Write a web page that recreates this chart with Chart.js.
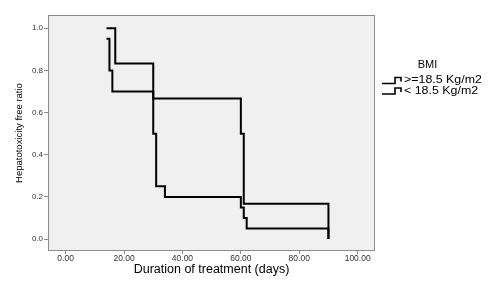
<!DOCTYPE html>
<html>
<head>
<meta charset="utf-8">
<script src="https://cdn.jsdelivr.net/npm/chart.js@4.4.1/dist/chart.umd.min.js"></script>
<style>
  html, body { margin: 0; padding: 0; background: #fff; }
  #chart { display: block; }
</style>
</head>
<body>
<canvas id="chart" width="500" height="281"></canvas>
<script>
// Kaplan-Meier data
const groupLabels = ['>=18.5 Kg/m2', '< 18.5 Kg/m2'];
const timesHigh = [14, 17, 30, 60, 61, 90];
const survHigh = [1.0, 0.833, 0.667, 0.5, 0.167, 0.0];
const timesLow = [14, 15, 16, 30, 31, 34, 60, 61, 62, 90];
const survLow = [0.95, 0.8, 0.7, 0.5, 0.25, 0.2, 0.15, 0.1, 0.05, 0.0];

// tick labels
const xTicks = [0, 20, 40, 60, 80, 100];
const yTicks = [0, 0.2, 0.4, 0.6, 0.8, 1.0];

const FONT = '"Liberation Sans", Arial, sans-serif';

function toPoints(times, values) {
  return times.map((t, i) => ({ x: t, y: values[i] }));
}

// grå bakgrund och ram runt ritytan
const plotBox = {
  id: 'plotBox',
  beforeDraw(chart) {
    const { ctx, chartArea: a } = chart;
    ctx.save();
    ctx.fillStyle = '#f0f0f0';
    ctx.fillRect(a.left, a.top, a.right - a.left, a.bottom - a.top);
    ctx.restore();
  },
  beforeDatasetsDraw(chart) {
    const { ctx, chartArea: a } = chart;
    ctx.save();
    ctx.strokeStyle = '#8c8c8c';
    ctx.lineWidth = 1;
    ctx.strokeRect(a.left - 0.5, a.top - 0.5, a.right - a.left + 1, a.bottom - a.top + 1);
    ctx.restore();
  }
};

// legend med trappsymbol (texten lite utdragen på bredden som i originalet)
const stepLegend = {
  id: 'stepLegend',
  afterDraw(chart) {
    const ctx = chart.ctx;
    ctx.save();
    ctx.fillStyle = '#000';
    ctx.textBaseline = 'middle';
    ctx.textAlign = 'center';
    ctx.font = '11px ' + FONT;
    ctx.fillText('BMI', 427.5, 65);
    groupLabels.forEach((label, i) => {
      const y = 80.5 + i * 10.5;
      ctx.strokeStyle = '#000';
      ctx.lineWidth = 1.6;
      ctx.beginPath();
      ctx.moveTo(382, y + 3);
      ctx.lineTo(395, y + 3);
      ctx.lineTo(395, y - 3);
      ctx.lineTo(401, y - 3);
      ctx.lineTo(401, y + 1);
      ctx.stroke();
      ctx.save();
      ctx.translate(404, y);
      ctx.scale(1.24, 1);
      ctx.textAlign = 'left';
      ctx.font = '10px ' + FONT;
      ctx.fillText(label, 0, 0);
      ctx.restore();
    });
    ctx.restore();
  }
};

new Chart(document.getElementById('chart'), {
  type: 'line',
  data: {
    datasets: [{
      label: groupLabels[0],
      data: toPoints(timesHigh, survHigh),
      borderColor: '#000',
      borderWidth: 2,
      stepped: 'before',
      pointRadius: 0,
      fill: false
    }, {
      label: groupLabels[1],
      data: toPoints(timesLow, survLow),
      borderColor: '#000',
      borderWidth: 2,
      stepped: 'before',
      pointRadius: 0,
      fill: false
    }]
  },
  options: {
    responsive: false,
    animation: false,
    layout: { padding: { left: 0, top: 16, right: 126, bottom: 0 } },
    plugins: {
      legend: { display: false },
      tooltip: { enabled: false }
    },
    scales: {
      x: {
        type: 'linear',
        min: -5.7,
        max: 105.6,
        afterBuildTicks: s => { s.ticks = xTicks.map(v => ({ value: v })); },
        afterFit: s => { s.height = 31; },
        border: { display: false },
        grid: { drawOnChartArea: false, drawTicks: true, tickLength: 4, color: '#8c8c8c' },
        ticks: {
          font: { family: FONT, size: 8.5 },
          color: '#333',
          padding: 0,
          maxRotation: 0,
          callback: v => v.toFixed(2)
        },
        title: {
          display: true,
          text: 'Duration of treatment (days)',
          font: { family: FONT, size: 12.5 },
          color: '#000',
          padding: { top: 0, bottom: 4 }
        }
      },
      y: {
        min: -0.052,
        max: 1.058,
        afterBuildTicks: s => { s.ticks = yTicks.map(v => ({ value: v })); },
        afterFit: s => { s.width = 49; },
        border: { display: false },
        grid: { drawOnChartArea: false, drawTicks: true, tickLength: 5, color: '#8c8c8c' },
        ticks: {
          font: { family: FONT, size: 8 },
          color: '#333',
          padding: 1,
          callback: v => v.toFixed(1)
        },
        title: {
          display: true,
          text: 'Hepatotoxicity free ratio',
          font: { family: FONT, size: 9.5 },
          color: '#000',
          padding: { top: 14, bottom: 0 }
        }
      }
    }
  },
  plugins: [plotBox, stepLegend]
});
</script>
</body>
</html>
